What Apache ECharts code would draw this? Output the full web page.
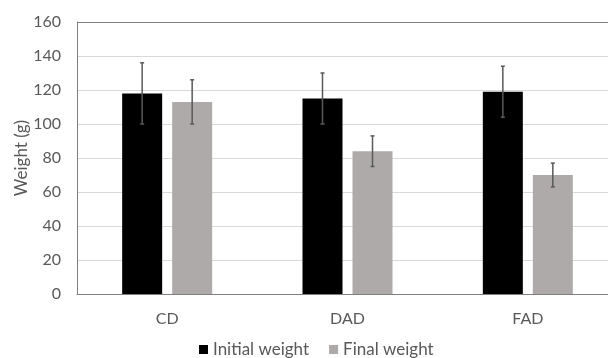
<!DOCTYPE html>
<html>
<head>
<meta charset="utf-8">
<script src="https://cdn.jsdelivr.net/npm/echarts@6/dist/echarts.min.js"></script>
<style>html,body{margin:0;padding:0;background:#fff;}#c{width:608px;height:358px;}</style>
</head>
<body>
<div id="c"></div>
<script>
const categories = ['CD', 'DAD', 'FAD'];
const initialWeight = [118, 115, 119];
const finalWeight = [113, 84, 70];
const initialSD = [18, 15, 15];
const finalSD = [13, 9, 7];
const yTicks = [0, 20, 40, 60, 80, 100, 120, 140, 160];

const FONT = 'Lato';
const TXT = '#595959';

function errorSeries(name, values, sds, offset) {
  return {
    type: 'custom',
    name: name + ' SD',
    z: 10,
    data: values.map((v, i) => [i, v - sds[i], v + sds[i]]),
    renderItem: function (params, api) {
      const lo = api.coord([api.value(0), api.value(1)]);
      const hi = api.coord([api.value(0), api.value(2)]);
      const x = lo[0] + offset;
      const cap = 2;
      const style = { stroke: '#595959', lineWidth: 1.5 };
      return {
        type: 'group',
        children: [
          { type: 'line', shape: { x1: x, y1: lo[1], x2: x, y2: hi[1] }, style: style },
          { type: 'line', shape: { x1: x - cap, y1: lo[1], x2: x + cap, y2: lo[1] }, style: style },
          { type: 'line', shape: { x1: x - cap, y1: hi[1], x2: x + cap, y2: hi[1] }, style: style }
        ]
      };
    },
    tooltip: { show: false }
  };
}

const splitColors = yTicks.map((t, i) => i === yTicks.length - 1 ? '#7f7f7f' : '#d9d9d9');

const chart = echarts.init(document.getElementById('c'));
chart.setOption({
  animation: false,
  backgroundColor: '#ffffff',
  grid: { left: 77, top: 22, width: 541, height: 272, outerBoundsMode: 'none', containLabel: false, show: false },
  legend: {
    left: 194, top: 336,
    icon: 'rect', itemWidth: 9, itemHeight: 9, itemGap: 20,
    data: ['Initial weight', 'Final weight'],
    textStyle: { fontFamily: FONT, fontSize: 17, color: TXT }
  },
  xAxis: {
    type: 'category',
    data: categories,
    axisLine: { show: true, lineStyle: { color: '#7f7f7f', width: 1 } },
    axisTick: { show: false },
    axisLabel: { fontFamily: FONT, fontSize: 16, color: TXT, margin: 17 }
  },
  yAxis: {
    type: 'value',
    min: 0, max: 160, interval: 20,
    name: 'Weight (g)',
    nameLocation: 'middle',
    nameGap: 47,
    nameMoveOverlap: false,
    nameTextStyle: { fontFamily: FONT, fontSize: 17, color: TXT },
    axisLine: { show: true, lineStyle: { color: '#7f7f7f', width: 1 } },
    axisTick: { show: false },
    splitLine: { lineStyle: { color: splitColors, width: 1 } },
    axisLabel: { fontFamily: FONT, fontSize: 16, color: TXT, margin: 16,
      formatter: function (v) { return yTicks.indexOf(v) >= 0 ? String(v) : ''; } }
  },
  series: [
    { type: 'bar', name: 'Initial weight', data: initialWeight, barWidth: 40, barGap: '25%',
      itemStyle: { color: '#000000' } },
    { type: 'bar', name: 'Final weight', data: finalWeight, barWidth: 40, barGap: '25%',
      itemStyle: { color: '#aeaaaa' } },
    errorSeries('Initial weight', initialWeight, initialSD, -25),
    errorSeries('Final weight', finalWeight, finalSD, 25)
  ]
});
</script>
</body>
</html>
